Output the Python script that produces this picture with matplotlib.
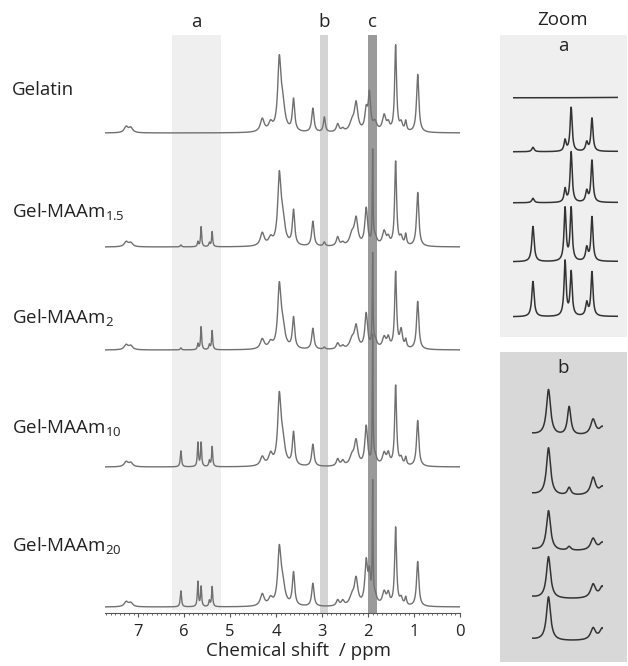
import numpy as np
import matplotlib
matplotlib.use('Agg')
import matplotlib.pyplot as plt
from matplotlib.ticker import MultipleLocator

plt.rcParams['font.family'] = ['Open Sans', 'DejaVu Sans']
plt.rcParams['mathtext.default'] = 'regular'

# Peak positions (ppm) and half widths
pos = [7.26, 7.16, 6.07, 5.70, 5.63, 5.45, 5.39, 4.30, 4.12, 3.93, 3.86, 3.62,
       3.20, 2.95, 2.66, 2.55, 2.35, 2.26, 2.04, 1.97, 1.90, 1.85, 1.65, 1.56,
       1.40, 1.28, 1.18, 0.92]
width = [0.05, 0.05, 0.016, 0.014, 0.014, 0.016, 0.014, 0.05, 0.05, 0.04, 0.06, 0.03,
         0.03, 0.025, 0.035, 0.035, 0.06, 0.045, 0.035, 0.03, 0.009, 0.05, 0.045, 0.035,
         0.025, 0.035, 0.022, 0.03]

# peak heights (pixels in the original figure)
h_gelatin = [6, 5, 0, 0, 0, 0, 0, 13, 8, 66, 26, 32,
             24, 15, 8, 3, 9, 28, 20, 36, 0, 9, 16, 7,
             86, 8, 10, 58]
h_maam15 = [5, 4, 2, 5, 20, 4, 15, 13, 7, 64, 26, 35,
            25, 4, 9, 3, 11, 26, 37, 0, 90, 9, 14, 7,
            84, 8, 11, 54]
h_maam2 = [5, 4, 2, 6, 23, 5, 19, 10, 6, 58, 22, 31,
           21, 2, 6, 3, 9, 22, 35, 0, 90, 9, 11, 10,
           76, 18, 8, 48]
h_maam10 = [5, 4, 16, 24, 24, 6, 20, 9, 11, 64, 24, 33,
            22, 0, 7, 5, 9, 24, 39, 0, 125, 9, 12, 11,
            80, 7, 8, 46]
h_maam20 = [5, 4, 16, 25, 20, 6, 20, 12, 7, 52, 22, 33,
            23, 0, 6, 5, 9, 26, 42, 28, 115, 9, 13, 11,
            78, 7, 8, 45]

samples = ['Gelatin', 'Gel-MAAm$_{1.5}$', 'Gel-MAAm$_{2}$', 'Gel-MAAm$_{10}$', 'Gel-MAAm$_{20}$']
heights = [h_gelatin, h_maam15, h_maam2, h_maam10, h_maam20]

regions = {'a': (6.26, 5.20), 'b': (3.05, 2.86), 'c': (2.00, 1.81)}


def spectrum(ppm, h):
    y = np.zeros_like(ppm)
    for p, w, a in zip(pos, width, h):
        y += a / (1 + ((ppm - p) / w) ** 2)
    return y


W, H = 628, 666
fig = plt.figure(figsize=(6.28, 6.66), dpi=100)


def add_ax(x0, y0, x1, y1):
    # rectangle given in pixels from the top-left corner
    return fig.add_axes([x0 / W, 1 - y1 / H, (x1 - x0) / W, (y1 - y0) / H])


# main panel
ax = add_ax(105, 0, 460, 613)
ax.set_xlim(7.72, 0)
ax.set_ylim(613, 0)
ppm = np.linspace(7.72, 0, 4000)
baselines = [133, 247, 350, 467, 607]

ax.axvspan(*regions['a'], ymin=3 / 613, ymax=578 / 613, color='#efefef', lw=0, zorder=0)
ax.axvspan(*regions['b'], ymin=0, ymax=578 / 613, color='#d4d4d4', lw=0, zorder=0)
ax.axvspan(*regions['c'], ymin=0, ymax=578 / 613, color='#9a9a9a', lw=0, zorder=0)
for k, (lo, hi) in regions.items():
    ax.text((lo + hi) / 2, 22, k, ha='center', va='center', fontsize=13.5, color='#222')

label_y = [90, 212, 317, 427, 546]
for name, h, b, ly in zip(samples, heights, baselines, label_y):
    ax.plot(ppm, b - spectrum(ppm, h), color='#707070', lw=1.0, zorder=2)
    fig.text(12 / W, 1 - ly / H, name, ha='left', va='center', fontsize=13.5, color='#222')

for s in ['top', 'left', 'right']:
    ax.spines[s].set_visible(False)
ax.spines['bottom'].set_color('#555')
ax.set_yticks([])
ax.xaxis.set_major_locator(MultipleLocator(1))
ax.xaxis.set_minor_locator(MultipleLocator(0.1))
ax.tick_params(axis='x', which='major', length=3, color='#555', labelsize=12, labelcolor='#222', pad=5)
ax.tick_params(axis='x', which='minor', length=1.5, color='#555')
ax.set_xlabel('Chemical shift  / ppm', fontsize=13.5, color='#222', labelpad=1)
ax.xaxis.set_label_coords(0.544, -0.048)
ax.patch.set_alpha(0)

# zoom panels
fig.text(563 / W, 1 - 20 / H, 'Zoom', ha='center', va='center', fontsize=13.5, color='#222')

bg_a = add_ax(500, 35, 627, 337)
bg_a.set_facecolor('#efefef')
bg_b = add_ax(500, 352, 627, 662)
bg_b.set_facecolor('#d8d8d8')
for bg in (bg_a, bg_b):
    bg.set_xticks([])
    bg.set_yticks([])
    for s in bg.spines.values():
        s.set_visible(False)
fig.text(563 / W, 1 - 46 / H, 'a', ha='center', va='center', fontsize=13.5, color='#222')
fig.text(563 / W, 1 - 368 / H, 'b', ha='center', va='center', fontsize=13.5, color='#222')

zooms = [
    (513, 618, (6.30, 5.09), [98, 152, 203, 262, 317], 2.2),
    (532, 603, (3.40, 2.54), [437, 497, 552, 600, 642], 1.9),
]
for x0, x1, lim, bases, gain in zooms:
    zax = add_ax(x0, 0, x1, H)
    zax.set_xlim(*lim)
    zax.set_ylim(H, 0)
    zppm = np.linspace(lim[0], lim[1], 800)
    for h, b in zip(heights, bases):
        zax.plot(zppm, b - gain * spectrum(zppm, h), color='#333', lw=1.1)
    zax.axis('off')

fig.savefig('out.png', dpi=100)
